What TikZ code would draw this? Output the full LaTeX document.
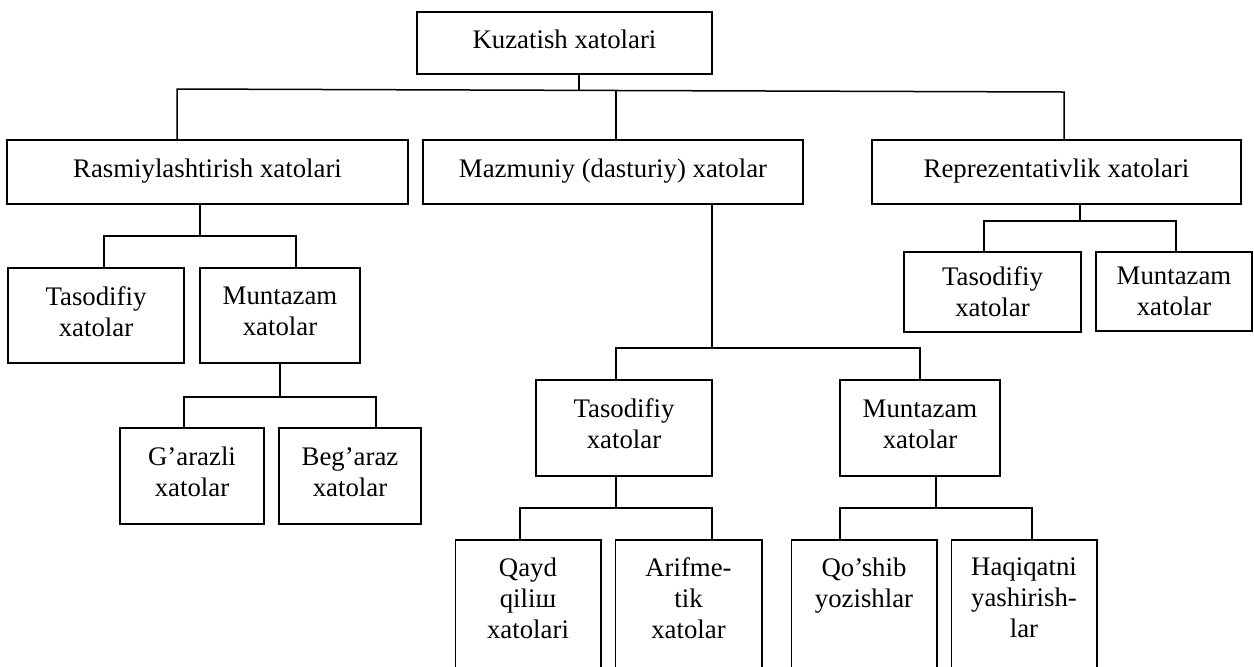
\documentclass[tikz,border=0pt]{standalone}
\usepackage{fontspec}
\setmainfont{Liberation Serif}
\begin{document}
\begin{tikzpicture}[x=0.5pt,y=-0.5pt,
  line width=0.75pt,
  box/.style={draw, rectangle, inner sep=2pt, align=center, text depth=4pt,
    font=\fontsize{13.4}{15.5}\selectfont},
  openbox/.style={rectangle, anchor=north, inner xsep=2pt, inner ysep=8.6pt,
    align=center, font=\fontsize{13.4}{15.5}\selectfont},
  wire/.style={draw, line width=0.75pt}]
\useasboundingbox (0,0) rectangle (1254,666);
\clip (0,0) rectangle (1254,666);

% level 0 and 1
\node[box, minimum width=147.5pt, minimum height=31pt] (top) at (564.5,43) {Kuzatish xatolari};
\node[box, minimum width=200.5pt, minimum height=32pt] (ras) at (207.5,172) {Rasmiylashtirish xatolari};
\node[box, minimum width=190pt, minimum height=32pt] (maz) at (613,172) {Mazmuniy (dasturiy) xatolar};
\node[box, minimum width=184.5pt, minimum height=32pt] (rep) at (1056.5,172) {Reprezentativlik xatolari};

% left branch
\node[box, minimum width=88pt, minimum height=47.5pt] (rT) at (96,315.5) {Tasodifiy\\xatolar};
\node[box, minimum width=80pt, minimum height=47.5pt] (rM) at (280,315.5) {Muntazam\\xatolar};
\node[box, minimum width=72pt, minimum height=48pt] (g) at (192,476) {G’arazli\\xatolar};
\node[box, minimum width=71pt, minimum height=48pt] (b) at (350,476) {Beg’araz\\xatolar};

% right branch
\node[box, text depth=0pt, minimum width=88.5pt, minimum height=40pt] (pT) at (992.5,292) {Tasodifiy\\xatolar};
\node[box, text depth=0pt, minimum width=78pt, minimum height=39.5pt] (pM) at (1174,291.5) {Muntazam\\xatolar};

% middle branch
\node[box, minimum width=88pt, minimum height=48pt] (mT) at (624,428) {Tasodifiy\\xatolar};
\node[box, minimum width=80pt, minimum height=48pt] (mM) at (920,428) {Muntazam\\xatolar};

% bottom (open) boxes
\node[openbox, minimum width=72pt] (q) at (528,540) {Qayd\\qiliш\\xatolari};
\node[openbox, minimum width=72.5pt] (a) at (688.5,540) {Arifme-\\tik\\xatolar};
\node[openbox, minimum width=72pt] (qo) at (864,540) {Qo’shib\\yozishlar};
\node[openbox, minimum width=72pt] (h) at (1024,540) {Haqiqatni\\yashirish-\\lar};
\foreach \n in {q,a,qo,h}{
  \draw ([yshift=-80pt]\n.north west) -- (\n.north west) -- (\n.north east) -- ([yshift=-80pt]\n.north east);
}

% connectors: top level
\coordinate (t0) at (579,90.3);
\coordinate (bL) at (177,89);
\coordinate (bM) at (616,90.5);
\coordinate (bR) at (1064,92);
\draw[wire] (top.south -| t0) -- (t0);
\draw[wire] (bL |- ras.north) -- (bL) -- (bR) -- (bR |- rep.north);
\draw[wire] (bM) -- (bM |- maz.north);

% Rasmiylashtirish
\coordinate (r1) at (200,236);
\coordinate (r1a) at (104,236);
\coordinate (r1b) at (296,236);
\draw[wire] (r1 |- ras.south) -- (r1);
\draw[wire] (r1a |- rT.north) -- (r1a) -- (r1b) -- (r1b |- rM.north);

\coordinate (r2) at (280,397);
\coordinate (r2a) at (184,397);
\coordinate (r2b) at (376,397);
\draw[wire] (r2 |- rM.south) -- (r2);
\draw[wire] (r2a |- g.north) -- (r2a) -- (r2b) -- (r2b |- b.north);

% Reprezentativlik
\coordinate (p0) at (1080,221);
\coordinate (p0a) at (984,221);
\coordinate (p0b) at (1176,221);
\draw[wire] (p0 |- rep.south) -- (p0);
\draw[wire] (p0a |- pT.north) -- (p0a) -- (p0b) -- (p0b |- pM.north);

% Mazmuniy
\coordinate (m0) at (712,348);
\coordinate (m0a) at (616,348);
\coordinate (m0b) at (920,348);
\draw[wire] (m0 |- maz.south) -- (m0);
\draw[wire] (m0a |- mT.north) -- (m0a) -- (m0b) -- (m0b |- mM.north);

\coordinate (m1) at (616,508);
\coordinate (m1a) at (520,508);
\coordinate (m1b) at (712,508);
\draw[wire] (m1 |- mT.south) -- (m1);
\draw[wire] (m1a |- q.north) -- (m1a) -- (m1b) -- (m1b |- a.north);

\coordinate (m2) at (936,508);
\coordinate (m2a) at (840,508);
\coordinate (m2b) at (1032,508);
\draw[wire] (m2 |- mM.south) -- (m2);
\draw[wire] (m2a |- qo.north) -- (m2a) -- (m2b) -- (m2b |- h.north);
\end{tikzpicture}
\end{document}
